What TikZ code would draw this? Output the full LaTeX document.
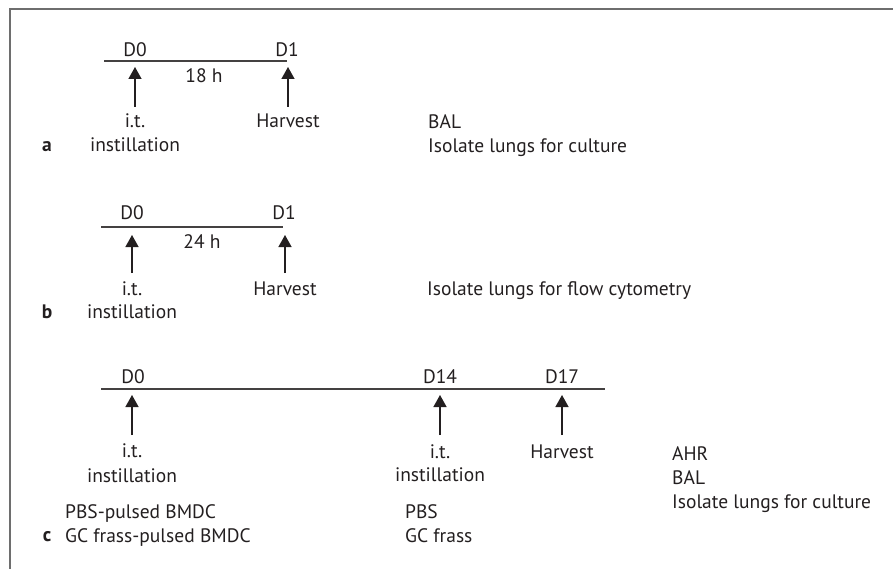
\documentclass[tikz,border=0pt]{standalone}
\usepackage{fontspec}
\setmainfont{PT Sans}
\usetikzlibrary{arrows.meta}
\definecolor{txt}{HTML}{231F20}
\definecolor{framegray}{HTML}{6E6E6E}
\begin{document}
\begin{tikzpicture}[x=1pt,y=-1pt,
  lbl/.style={font=\fontsize{19.5}{22}\selectfont, text=txt, inner sep=0pt, anchor=base},
  lft/.style={lbl, anchor=base west},
  panel/.style={lbl, font=\fontsize{19.5}{22}\selectfont\bfseries},
  tline/.style={draw=txt!85, line width=1.8pt},
  evarrow/.style={draw=txt, line width=1.4pt, -{Triangle[width=13pt,length=12pt]}},
  frame/.style={draw=framegray, line width=1.8pt}]
\useasboundingbox (0,0) rectangle (893,569);
% frame
\coordinate (fbl) at (10,569);
\coordinate (ftl) at (10,9);
\coordinate (ftr) at (893,9);
\draw[frame] (fbl) -- (ftl) -- (ftr);

% ---------- panel a ----------
\coordinate (a0) at (104,61);
\coordinate (a1) at (287,61);
\draw[tline] (a0) -- (a1);
\node[lbl] (aD0) at (135,57) {D0};
\node[lbl] (aD1) at (287,57) {D1};
\node[lbl] (a18) at (204,83) {18 h};
\coordinate (aA0s) at (135,107); \coordinate (aA0t) at (135,67);
\coordinate (aA1s) at (288,107); \coordinate (aA1t) at (288,67);
\draw[evarrow] (aA0s) -- (aA0t);
\draw[evarrow] (aA1s) -- (aA1t);
\node[lbl] (ait) at (135,128) {i.t.};
\node[lbl] (ainst) at (135,152) {instillation};
\node[lbl] (aharv) at (288,128) {Harvest};
\node[lft] (abal) at (428,129) {BAL};
\node[lft] (aiso) at (428,153) {Isolate lungs for culture};
\node[panel] (alab) at (47,152) {a};

% ---------- panel b ----------
\coordinate (b0) at (101,227);
\coordinate (b1) at (283,227);
\draw[tline] (b0) -- (b1);
\node[lbl] (bD0) at (132,220) {D0};
\node[lbl] (bD1) at (284,220) {D1};
\node[lbl] (b24) at (202,248) {24 h};
\coordinate (bA0s) at (132,273); \coordinate (bA0t) at (132,235);
\coordinate (bA1s) at (285,273); \coordinate (bA1t) at (285,235);
\draw[evarrow] (bA0s) -- (bA0t);
\draw[evarrow] (bA1s) -- (bA1t);
\node[lbl] (bit) at (132,295) {i.t.};
\node[lbl] (binst) at (132,318) {instillation};
\node[lbl] (bharv) at (285,295) {Harvest};
\node[lft] (biso) at (427,295) {Isolate lungs for flow cytometry};
\node[panel] (blab) at (47,318) {b};

% ---------- panel c ----------
\coordinate (c0) at (101,389);
\coordinate (c1) at (605,389);
\draw[tline] (c0) -- (c1);
\node[lbl] (cD0) at (133,383) {D0};
\node[lbl] (cD14) at (440,383) {D14};
\node[lbl] (cD17) at (562,383) {D17};
\coordinate (cA0s) at (132,435); \coordinate (cA0t) at (132,395);
\coordinate (cA1s) at (440,435); \coordinate (cA1t) at (440,395);
\coordinate (cA2s) at (562,435); \coordinate (cA2t) at (562,395);
\draw[evarrow] (cA0s) -- (cA0t);
\draw[evarrow] (cA1s) -- (cA1t);
\draw[evarrow] (cA2s) -- (cA2t);
\node[lbl] (cit0) at (132,457) {i.t.};
\node[lbl] (cinst0) at (132,482) {instillation};
\node[lbl] (cit1) at (440,458) {i.t.};
\node[lbl] (cinst1) at (440,481) {instillation};
\node[lbl] (charv) at (562,458) {Harvest};
\node[lft] (cahr) at (672,460) {AHR};
\node[lft] (cbal) at (672,484) {BAL};
\node[lft] (ciso) at (672,508) {Isolate lungs for culture};
\node[lft] (cpbs0) at (65,518) {PBS-pulsed BMDC};
\node[lft] (cgc0) at (65,542) {GC frass-pulsed BMDC};
\node[lft] (cpbs1) at (405,518) {PBS};
\node[lft] (cgc1) at (405,542) {GC frass};
\node[panel] (clab) at (47,541) {c};
\end{tikzpicture}
\end{document}
